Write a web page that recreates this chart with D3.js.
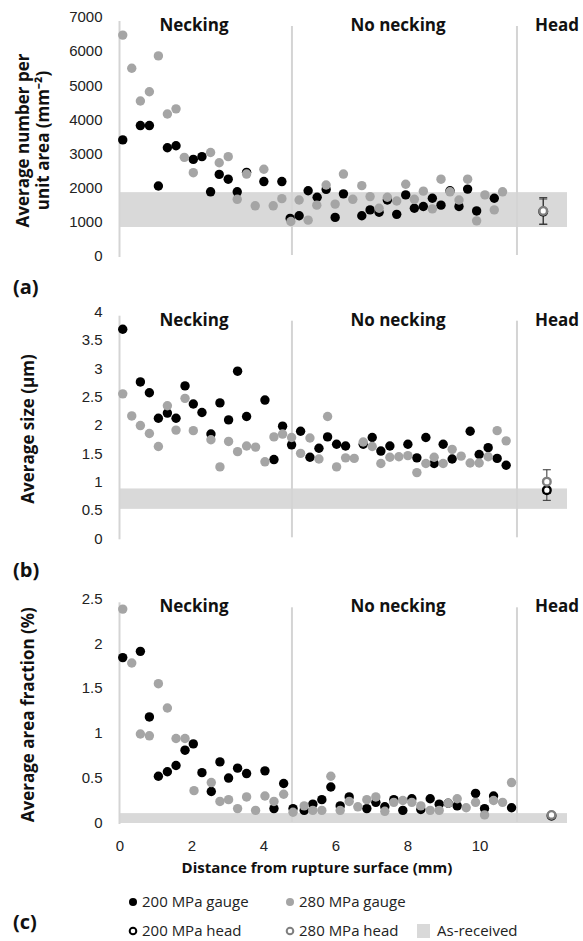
<!DOCTYPE html>
<html>
<head>
<meta charset="utf-8">
<script src="https://cdn.jsdelivr.net/npm/d3@7"></script>
<style>
  body { margin: 0; background: #fff; }
  svg { font-family: "Open Sans", sans-serif; }
  .axis text { font-size: 15px; fill: #222; }
  .axis path { display: none; }
  .lab { font-weight: bold; fill: #111; }
</style>
</head>
<body>
<svg width="583" height="941"></svg>
<script>
// distance axis (mm)
const distTicks = [0, 2, 4, 6, 8, 10];
const neckEnd = 4.79, headStart = 11.04, distMax = 12.43;

// (a) average number per unit area (mm^-2)
const numG200 = [[0.09,3400],[0.58,3820],[0.83,3820],[1.08,2050],[1.33,3170],[1.57,3230],[2.05,2830],[2.29,2910],[2.53,1880],[2.77,2390],[3.02,2250],[3.27,1880],[3.53,2450],[4.01,2180],[4.51,2180],[4.74,1100],[4.99,1180],[5.24,1910],[5.49,1720],[5.74,1950],[5.99,1130],[6.22,1820],[6.73,1180],[6.96,1350],[7.21,1280],[7.44,1640],[7.70,1220],[7.95,1790],[8.19,1400],[8.44,1450],[8.69,1690],[8.93,1490],[9.18,1910],[9.43,1450],[9.67,1960],[9.92,1320],[10.41,1690]];
const numG280 = [[0.09,6470],[0.34,5500],[0.58,4540],[0.83,4810],[1.08,5860],[1.33,4160],[1.57,4310],[1.80,2890],[2.05,2440],[2.53,3030],[2.77,2730],[3.02,2910],[3.27,1660],[3.53,2400],[3.77,1470],[4.01,2540],[4.27,1470],[4.51,1680],[4.76,1010],[4.99,1640],[5.24,1050],[5.48,1490],[5.74,2080],[5.99,1520],[6.22,2400],[6.48,1660],[6.73,2060],[6.96,1740],[7.21,1400],[7.44,1720],[7.70,1610],[7.95,2100],[8.19,1660],[8.44,1900],[8.69,1380],[8.93,2250],[9.18,1880],[9.43,1640],[9.67,2250],[9.92,1030],[10.15,1790],[10.41,1350],[10.64,1880]];
const numHead = { x: 11.77, v200: 1300, e200: 370, v280: 1320, e280: 390 };
const numBand = [850, 1870];

// (b) average size (µm)
const sizeG200 = [[0.09,3.69],[0.58,2.76],[0.83,2.57],[1.08,2.12],[1.33,2.21],[1.57,2.12],[1.82,2.69],[2.05,2.37],[2.29,2.22],[2.54,1.84],[2.79,2.39],[3.03,2.09],[3.28,2.95],[3.53,2.15],[4.04,2.44],[4.29,1.39],[4.53,1.98],[4.78,1.65],[5.03,1.89],[5.29,1.43],[5.54,1.59],[5.78,1.79],[6.03,1.66],[6.28,1.63],[6.77,1.66],[7.02,1.78],[7.26,1.54],[7.51,1.63],[8.01,1.66],[8.26,1.42],[8.51,1.78],[8.74,1.32],[8.99,1.66],[9.24,1.40],[9.74,1.89],[9.99,1.48],[10.24,1.60],[10.49,1.41],[10.74,1.29]];
const sizeG280 = [[0.09,2.55],[0.34,2.16],[0.58,1.99],[0.83,1.85],[1.08,1.62],[1.33,2.34],[1.57,1.91],[1.82,2.47],[2.05,1.90],[2.54,1.74],[2.79,1.26],[3.03,1.71],[3.28,1.53],[3.53,1.63],[3.78,1.61],[4.04,1.35],[4.29,1.79],[4.53,1.84],[4.78,1.78],[5.03,1.50],[5.29,1.77],[5.54,1.40],[5.78,2.15],[6.03,1.26],[6.28,1.42],[6.52,1.41],[6.77,1.70],[7.02,1.62],[7.26,1.32],[7.51,1.43],[7.76,1.44],[8.01,1.46],[8.26,1.16],[8.51,1.32],[8.74,1.43],[8.99,1.32],[9.24,1.57],[9.49,1.45],[9.74,1.33],[9.99,1.33],[10.24,1.44],[10.49,1.90],[10.74,1.72]];
const sizeHead = { x: 11.87, v200: 0.85, e200: 0.18, v280: 1.00, e280: 0.21 };
const sizeBand = [0.52, 0.88];

// (c) average area fraction (%)
const fracG200 = [[0.09,1.84],[0.58,1.91],[0.83,1.18],[1.08,0.52],[1.33,0.57],[1.57,0.64],[1.82,0.81],[2.05,0.88],[2.29,0.56],[2.55,0.35],[2.79,0.68],[3.03,0.50],[3.28,0.61],[3.53,0.55],[4.04,0.58],[4.29,0.16],[4.56,0.44],[4.82,0.16],[5.13,0.14],[5.37,0.21],[5.62,0.26],[5.87,0.40],[6.13,0.19],[6.38,0.29],[6.87,0.16],[7.12,0.23],[7.37,0.18],[7.62,0.26],[7.87,0.14],[8.12,0.27],[8.37,0.15],[8.63,0.27],[8.88,0.21],[9.13,0.22],[9.38,0.19],[9.89,0.33],[10.14,0.16],[10.39,0.30],[10.89,0.17]];
const fracG280 = [[0.09,2.38],[0.34,1.78],[0.58,0.99],[0.83,0.97],[1.08,1.55],[1.33,1.28],[1.57,0.94],[1.82,0.94],[2.07,0.36],[2.55,0.45],[2.79,0.24],[3.03,0.26],[3.28,0.16],[3.53,0.29],[3.78,0.14],[4.04,0.30],[4.29,0.24],[4.56,0.32],[4.82,0.12],[5.13,0.19],[5.37,0.14],[5.62,0.14],[5.87,0.52],[6.13,0.14],[6.38,0.24],[6.62,0.18],[6.87,0.26],[7.12,0.29],[7.37,0.13],[7.62,0.23],[7.87,0.25],[8.12,0.23],[8.37,0.19],[8.63,0.14],[8.88,0.14],[9.13,0.22],[9.38,0.27],[9.63,0.17],[9.89,0.23],[10.14,0.09],[10.39,0.25],[10.64,0.23],[10.89,0.45]];
const fracHead = { x: 12.0, v200: 0.08, e200: 0.01, v280: 0.09, e280: 0.01 };
const fracBand = [0, 0.11];

const regionNames = ["Necking", "No necking", "Head"];
const legendNames = ["200 MPa gauge", "280 MPa gauge", "200 MPa head", "280 MPa head", "As-received"];

const black = "#000", grey = "#a5a5a5", headGrey = "#7f7f7f", bandCol = "#d9d9d9", lineCol = "#d4d4d4";

const svg = d3.select("svg");
const x = d3.scaleLinear().domain([0, distMax]).range([119.5, 567]);

const panels = [
  { g200: numG200, g280: numG280, head: numHead, band: numBand, dom: [0, 7000], rng: [256, 17],
    ticks: d3.range(0, 7001, 1000), fmt: d3.format("d"), title: ["Average number per", "unit area (mm\u207B\u00B2)"], tag: "(a)", tagY: 287 },
  { g200: sizeG200, g280: sizeG280, head: sizeHead, band: sizeBand, dom: [0, 4], rng: [538.3, 311.7],
    ticks: d3.range(0, 4.01, 0.5), fmt: d => d3.format("")(d), title: ["Average size (\u00B5m)"], tag: "(b)", tagY: 570 },
  { g200: fracG200, g280: fracG280, head: fracHead, band: fracBand, dom: [0, 2.5], rng: [823, 598.3],
    ticks: d3.range(0, 2.51, 0.5), fmt: d => d3.format("")(d), title: ["Average area fraction (%)"], tag: "(c)", tagY: 922 }
];

panels.forEach((p, i) => {
  const y = d3.scaleLinear().domain(p.dom).range(p.rng);
  const g = svg.append("g");

  // as-received band
  g.append("rect")
    .attr("x", x(0)).attr("width", x(distMax) - x(0))
    .attr("y", y(p.band[1])).attr("height", y(p.band[0]) - y(p.band[1]))
    .attr("fill", bandCol);

  // y axis line + region boundaries
  [0, neckEnd, headStart].forEach(d => {
    g.append("line")
      .attr("x1", x(d)).attr("x2", x(d))
      .attr("y1", p.rng[1] + (d === 0 ? 4 : 9)).attr("y2", p.rng[0] + (d === 0 ? 1 : -1))
      .attr("stroke", lineCol).attr("stroke-width", 2);
  });

  // region labels
  const labX = [194, 398, 557];
  regionNames.forEach((t, k) => {
    g.append("text").attr("class", "lab")
      .attr("x", labX[k]).attr("y", p.rng[1] + 14)
      .attr("text-anchor", "middle").attr("font-size", 17)
      .text(t);
  });

  g.append("g").attr("class", "axis")
    .attr("transform", "translate(" + x(0) + ",0)")
    .call(d3.axisLeft(y).tickValues(p.ticks).tickFormat(p.fmt).tickSize(0).tickPadding(17));

  // gauge points, 200 first, 280 on top
  g.selectAll(".p200").data(p.g200).enter().append("circle")
    .attr("cx", d => x(d[0])).attr("cy", d => y(d[1])).attr("r", 4.7).attr("fill", black);
  g.selectAll(".p280").data(p.g280).enter().append("circle")
    .attr("cx", d => x(d[0])).attr("cy", d => y(d[1])).attr("r", 4.7).attr("fill", grey);

  // head points with error bars
  const h = p.head;
  [[h.v200, h.e200, black], [h.v280, h.e280, headGrey]].forEach(([v, e, c]) => {
    const cx = x(h.x);
    g.append("line").attr("x1", cx).attr("x2", cx).attr("y1", y(v - e)).attr("y2", y(v + e))
      .attr("stroke", "#333").attr("stroke-width", 1);
    [v - e, v + e].forEach(b => g.append("line")
      .attr("x1", cx - 4).attr("x2", cx + 4).attr("y1", y(b)).attr("y2", y(b))
      .attr("stroke", "#333").attr("stroke-width", 1));
  });
  [[h.v200, black], [h.v280, headGrey]].forEach(([v, c]) => {
    g.append("circle").attr("cx", x(h.x)).attr("cy", y(v)).attr("r", 3.8)
      .attr("fill", "#fff").attr("stroke", c).attr("stroke-width", 2.4);
  });

  // y title
  p.title.forEach((t, k) => {
    const tx = p.title.length === 2 ? 23 + k * 20 : 28;
    const ty = (p.rng[0] + p.rng[1]) / 2 + 4;
    g.append("text").attr("class", "lab")
      .attr("transform", "translate(" + tx + "," + ty + ") rotate(-90)")
      .attr("text-anchor", "middle").attr("dy", "0.35em").attr("font-size", 17)
      .text(t);
  });

  g.append("text").attr("class", "lab")
    .attr("x", 13).attr("y", p.tagY).attr("dy", "0.35em").attr("font-size", 20)
    .text(p.tag);

  if (i === 2) {
    g.append("g").attr("class", "axis")
      .attr("transform", "translate(0," + p.rng[0] + ")")
      .call(d3.axisBottom(x).tickValues(distTicks).tickSize(0).tickPadding(17));
    g.append("text").attr("class", "lab")
      .attr("x", 317).attr("y", 868).attr("dy", "0.35em")
      .attr("text-anchor", "middle").attr("font-size", 15)
      .text("Distance from rupture surface (mm)");
  }
});

// legend
const leg = svg.append("g").attr("font-size", 15);
const legPos = [[133, 902], [290, 902], [133, 931], [290, 931], [423, 931]];
legendNames.forEach((t, k) => {
  const [lx, ly] = legPos[k];
  if (k < 2) {
    leg.append("circle").attr("cx", lx).attr("cy", ly).attr("r", 4).attr("fill", k === 0 ? black : grey);
  } else if (k < 4) {
    leg.append("circle").attr("cx", lx).attr("cy", ly).attr("r", 3.3)
      .attr("fill", "#fff").attr("stroke", k === 2 ? black : headGrey).attr("stroke-width", 2);
  } else {
    leg.append("rect").attr("x", lx - 6).attr("y", ly - 7).attr("width", 13).attr("height", 14).attr("fill", bandCol);
  }
  leg.append("text").attr("x", lx + (k === 4 ? 14 : 9)).attr("y", ly).attr("dy", "0.35em")
    .attr("fill", "#222").text(t);
});
</script>
</body>
</html>
